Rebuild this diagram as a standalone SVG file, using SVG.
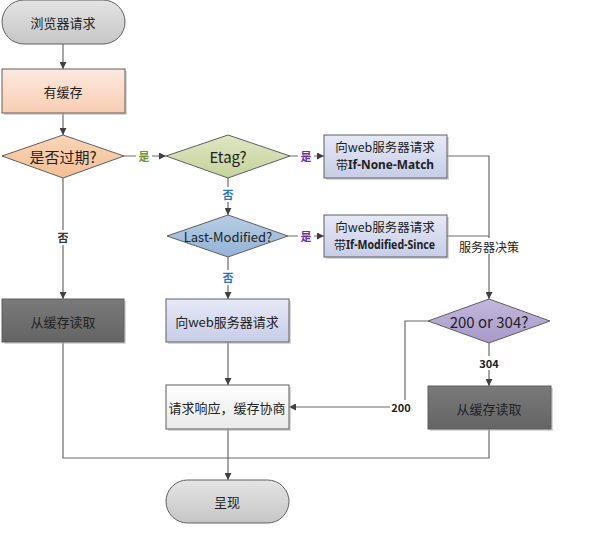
<svg xmlns="http://www.w3.org/2000/svg" width="593" height="537" viewBox="0 0 593 537">
<defs>
<linearGradient id="gGray" x1="0" y1="0" x2="0" y2="1"><stop offset="0" stop-color="#e4e4e4"/><stop offset="1" stop-color="#c6c6c6"/></linearGradient>
<linearGradient id="gPeach" x1="0" y1="0" x2="0" y2="1"><stop offset="0" stop-color="#fde9df"/><stop offset="1" stop-color="#f8cdb2"/></linearGradient>
<linearGradient id="gOrange" x1="0" y1="0" x2="0" y2="1"><stop offset="0" stop-color="#fad5b8"/><stop offset="1" stop-color="#f4bf95"/></linearGradient>
<linearGradient id="gGreen" x1="0" y1="0" x2="0" y2="1"><stop offset="0" stop-color="#dfe6c4"/><stop offset="1" stop-color="#c5d39a"/></linearGradient>
<linearGradient id="gBlue" x1="0" y1="0" x2="0" y2="1"><stop offset="0" stop-color="#b8cde4"/><stop offset="1" stop-color="#93b3d6"/></linearGradient>
<linearGradient id="gLav" x1="0" y1="0" x2="0" y2="1"><stop offset="0" stop-color="#e6e9f6"/><stop offset="1" stop-color="#c7cde8"/></linearGradient>
<linearGradient id="gPurple" x1="0" y1="0" x2="0" y2="1"><stop offset="0" stop-color="#c3b8dc"/><stop offset="1" stop-color="#a898c9"/></linearGradient>
<linearGradient id="gWhite" x1="0" y1="0" x2="0" y2="1"><stop offset="0" stop-color="#ffffff"/><stop offset="1" stop-color="#e9e9e9"/></linearGradient>
<linearGradient id="gDark" x1="0" y1="0" x2="0" y2="1"><stop offset="0" stop-color="#7a7a7a"/><stop offset="1" stop-color="#646464"/></linearGradient>
<marker id="arr" viewBox="0 0 10 10" refX="10" refY="5" markerWidth="7" markerHeight="7" markerUnits="userSpaceOnUse" orient="auto"><path d="M0,0 L10,5 L0,10 z" fill="#404040"/></marker>
</defs>
<style>
.node{stroke:#5f5f5f;stroke-width:1}
.sh{fill:#b0b0b0;opacity:0.5}
.t{font-family:"Noto Sans CJK SC","Microsoft YaHei",sans-serif;font-size:13px;fill:#222;text-anchor:middle;dominant-baseline:central}
.two{font-size:12.5px}
.s{text-anchor:start;font-size:12px}
.tb{font-family:"Noto Sans","Noto Sans CJK SC",sans-serif;font-weight:bold}
.big{font-size:15px}
.c{fill:none;stroke:#6a6a6a;stroke-width:1.2}
.lb{font-family:"Noto Sans CJK SC",sans-serif;font-size:11px;font-weight:bold;text-anchor:middle;dominant-baseline:central}
.lbg{fill:#fff}
</style>

<g id="connectors">
<line class="c" x1="63" y1="44" x2="63" y2="69" marker-end="url(#arr)"/>
<line class="c" x1="63" y1="113" x2="63" y2="135" marker-end="url(#arr)"/>
<line class="c" x1="124" y1="156" x2="166" y2="156" marker-end="url(#arr)"/>
<line class="c" x1="63" y1="178" x2="63" y2="299" marker-end="url(#arr)"/>
<line class="c" x1="290" y1="156" x2="324" y2="156" marker-end="url(#arr)"/>
<line class="c" x1="228" y1="178" x2="228" y2="215" marker-end="url(#arr)"/>
<line class="c" x1="288" y1="236" x2="324" y2="236" marker-end="url(#arr)"/>
<line class="c" x1="228" y1="257" x2="228" y2="299" marker-end="url(#arr)"/>
<line class="c" x1="228" y1="342" x2="228" y2="385" marker-end="url(#arr)"/>
<polyline class="c" points="447,156 489,156 489,299" marker-end="url(#arr)"/>
<polyline class="c" points="447,236 489,236"/>
<line class="c" x1="489" y1="343" x2="489" y2="386" marker-end="url(#arr)"/>
<polyline class="c" points="428,321 405,321 405,407 289,407" marker-end="url(#arr)"/>
<polyline class="c" points="63,342 63,458 489,458 489,429"/>
<line class="c" x1="228" y1="429" x2="228" y2="480" marker-end="url(#arr)"/>
<rect class="lbg" x="136" y="148" width="16" height="16"/>
<text class="lb" x="144" y="156" fill="#76923c">是</text>
<rect class="lbg" x="298" y="148" width="16" height="16"/>
<text class="lb" x="306" y="156" fill="#7030a0">是</text>
<rect class="lbg" x="298" y="228" width="16" height="16"/>
<text class="lb" x="306" y="236" fill="#7030a0">是</text>
<rect class="lbg" x="220" y="187" width="16" height="15"/>
<text class="lb" x="228" y="194" fill="#2e75b6">否</text>
<rect class="lbg" x="220" y="270" width="16" height="15"/>
<text class="lb" x="228" y="277" fill="#2e75b6">否</text>
<rect class="lbg" x="55" y="230" width="16" height="15"/>
<text class="lb" x="63" y="237" fill="#333">否</text>
<rect class="lbg" x="458" y="238" width="62" height="16"/>
<text class="t" x="489" y="246" style="font-size:12px">服务器决策</text>
<rect class="lbg" x="478" y="356" width="22" height="14"/>
<text class="lb" x="489" y="363" fill="#222">304</text>
<rect class="lbg" x="390" y="400" width="22" height="14"/>
<text class="lb" x="401" y="407" fill="#222">200</text>
</g>

<g id="start">
<rect x="2" y="0" width="123" height="44" rx="22" fill="url(#gGray)" class="node"/>
<text class="t" x="63" y="22">浏览器请求</text>
</g>
<g id="hasCache">
<rect class="sh" x="4" y="71" width="123" height="44"/>
<rect x="2" y="69" width="123" height="44" fill="url(#gPeach)" class="node"/>
<text class="t" x="63" y="91">有缓存</text>
</g>
<g id="expired">
<polygon points="2,156 63,135 124,156 63,178" fill="url(#gOrange)" class="node"/>
<text class="t big" x="63" y="156">是否过期?</text>
</g>
<g id="etag">
<polygon points="166,156 228,135 290,156 228,178" fill="url(#gGreen)" class="node"/>
<text class="t big" x="228" y="156">Etag?</text>
</g>
<g id="reqNoneMatch">
<rect class="sh" x="326" y="137" width="123" height="43"/>
<rect x="324" y="135" width="123" height="43" fill="url(#gLav)" class="node"/>
<text class="t two" x="385" y="146">向web服务器请求</text>
<text class="t s" x="336" y="164">带</text>
<text class="t s tb" x="348" y="164" textLength="86" lengthAdjust="spacingAndGlyphs">If-None-Match</text>
</g>
<g id="lastModified">
<polygon points="167,236 228,215 288,236 228,257" fill="url(#gBlue)" class="node"/>
<text class="t" x="228" y="236">Last-Modified?</text>
</g>
<g id="reqModifiedSince">
<rect class="sh" x="326" y="217" width="123" height="42"/>
<rect x="324" y="215" width="123" height="42" fill="url(#gLav)" class="node"/>
<text class="t two" x="385" y="226">向web服务器请求</text>
<text class="t s" x="334" y="244">带</text>
<text class="t s tb" x="346" y="244" textLength="89" lengthAdjust="spacingAndGlyphs">If-Modified-Since</text>
</g>
<g id="readCacheLeft">
<rect class="sh" x="4" y="301" width="122" height="43"/>
<rect x="2" y="299" width="122" height="43" fill="url(#gDark)" class="node"/>
<text class="t" x="63" y="321">从缓存读取</text>
</g>
<g id="reqServer">
<rect class="sh" x="168" y="301" width="123" height="43"/>
<rect x="166" y="299" width="123" height="43" fill="url(#gLav)" class="node"/>
<text class="t" x="227" y="321">向web服务器请求</text>
</g>
<g id="decision">
<polygon points="428,321 489,299 550,321 489,343" fill="url(#gPurple)" class="node"/>
<text class="t big" x="489" y="321">200 or 304?</text>
</g>
<g id="negotiate">
<rect class="sh" x="168" y="387" width="123" height="44"/>
<rect x="166" y="385" width="123" height="44" fill="url(#gWhite)" class="node"/>
<text class="t" x="227" y="407">请求响应，缓存协商</text>
</g>
<g id="readCacheRight">
<rect class="sh" x="430" y="388" width="123" height="43"/>
<rect x="428" y="386" width="123" height="43" fill="url(#gDark)" class="node"/>
<text class="t" x="489" y="408">从缓存读取</text>
</g>
<g id="present">
<rect x="166" y="480" width="123" height="43" rx="21.5" fill="url(#gGray)" class="node"/>
<text class="t" x="227" y="501">呈现</text>
</g>
</svg>
